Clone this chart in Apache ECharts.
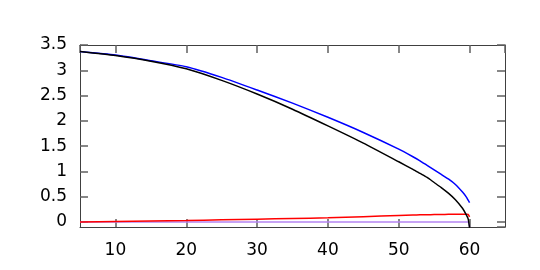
<!DOCTYPE html>
<html>
<head>
<meta charset="utf-8">
<script src="https://cdn.jsdelivr.net/npm/echarts@6/dist/echarts.min.js"></script>
<style>
html,body{margin:0;padding:0;background:#fff;}
#c{width:540px;height:270px;}
</style>
</head>
<body>
<div id="c"></div>
<script>
var xs = [5,10,15,20,25,30,35,40,45,50,52,53,54,55,56,57,58,59,59.5,59.8,60];
var blackVals = [3.37,3.29,3.18,3.03,2.80,2.53,2.23,1.90,1.56,1.19,1.04,0.96,0.88,0.78,0.68,0.57,0.44,0.27,0.15,0.06,-0.12];
var blueVals = [3.37,3.30,3.19,3.07,2.86,2.61,2.35,2.07,1.77,1.44,1.29,1.21,1.12,1.03,0.94,0.85,0.74,0.59,0.50,0.43,0.38];
var redVals = [0.0,0.01,0.02,0.03,0.042,0.055,0.068,0.082,0.105,0.127,0.136,0.14,0.143,0.146,0.148,0.15,0.152,0.153,0.154,0.15,0.10];
var purpleVals = [0,0,0,0,0,0,0,0,0,0,0,0,0,0,0,0,0,0,0,0,-0.1];
var xRange = [5, 65];
var yRange = [-0.1, 3.5];

function pairs(v){ return xs.map(function(x,i){ return [x, v[i]]; }); }

var lineCol = '#404040', tickCol = '#606060';

function xAx(pos, labels){
  return {type:'value', position:pos, min:xRange[0], max:xRange[1], splitNumber:5,
    axisLine:{show:true, onZero:false, lineStyle:{color:lineCol, width:1}},
    axisTick:{show:true, inside:true, length:8, lineStyle:{color:tickCol, width:1.5}},
    axisLabel:{show:labels, margin:15, showMinLabel:false, showMaxLabel:false,
      fontFamily:'DejaVu Sans', fontSize:17, color:'#000'},
    splitLine:{show:false}};
}
function yAx(pos, labels){
  return {type:'value', position:pos, min:yRange[0], max:yRange[1], splitNumber:7,
    axisLine:{show:true, onZero:false, lineStyle:{color:lineCol, width:1}},
    axisTick:{show:true, inside:true, length:8, lineStyle:{color:tickCol, width:1.5}},
    axisLabel:{show:labels, margin:13, showMinLabel:false, showMaxLabel:true,
      fontFamily:'DejaVu Sans', fontSize:17, color:'#000'},
    splitLine:{show:false}};
}
function ser(name, v, col){
  return {name:name, type:'line', data:pairs(v), showSymbol:false, symbol:'none', smooth:0.2,
    lineStyle:{color:col, width:1.5}, itemStyle:{color:col}, z:2};
}

var chart = echarts.init(document.getElementById('c'));
chart.setOption({
  animation:false,
  grid:{left:80, right:35, top:45, bottom:43},
  xAxis:[xAx('bottom', true), xAx('top', false)],
  yAxis:[yAx('left', true), yAx('right', false)],
  series:[
    ser('purple', purpleVals, '#b585f2'),
    ser('red', redVals, '#ff0000'),
    ser('blue', blueVals, '#0000ff'),
    ser('black', blackVals, '#000000')
  ]
});
</script>
</body>
</html>
